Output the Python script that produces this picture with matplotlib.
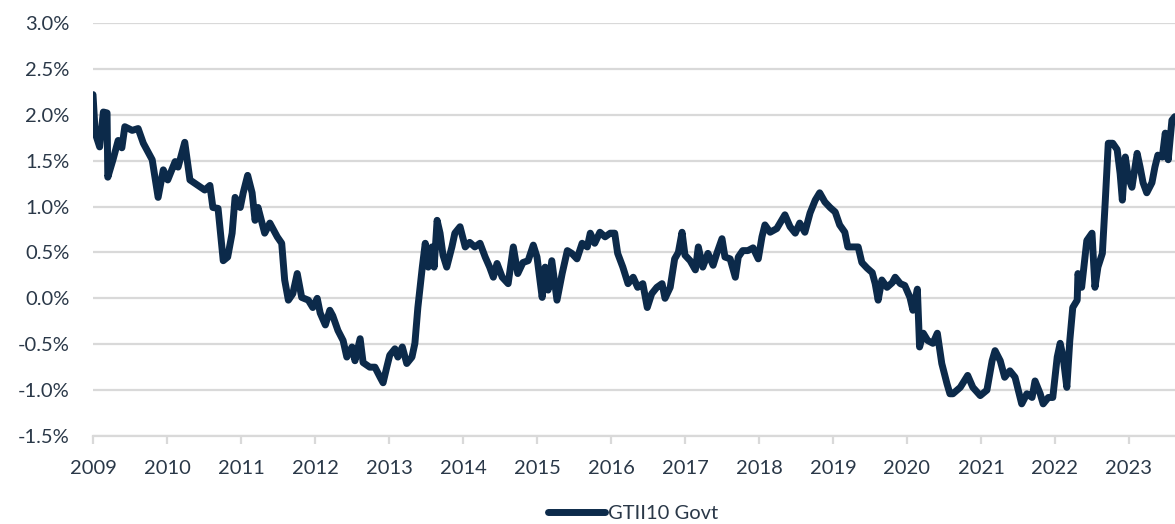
import matplotlib.pyplot as plt
from matplotlib.ticker import FuncFormatter, FixedLocator

dates = [
    2009.00, 2009.03, 2009.09, 2009.14, 2009.19, 2009.20, 2009.27, 2009.34, 2009.39, 2009.43,
    2009.53, 2009.61, 2009.68, 2009.80, 2009.88, 2009.95, 2010.01, 2010.11, 2010.15, 2010.24,
    2010.31, 2010.42, 2010.51, 2010.58, 2010.62, 2010.69, 2010.76, 2010.82, 2010.88, 2010.92,
    2010.99, 2011.03, 2011.09, 2011.15, 2011.19, 2011.23, 2011.32, 2011.39, 2011.49, 2011.55,
    2011.59, 2011.64, 2011.70, 2011.76, 2011.82, 2011.91, 2011.97, 2012.03, 2012.07,
    2012.14, 2012.20, 2012.24, 2012.31, 2012.38, 2012.43, 2012.50, 2012.54, 2012.61, 2012.65,
    2012.74, 2012.81, 2012.88, 2012.92, 2012.97, 2013.01, 2013.08, 2013.12, 2013.18, 2013.24,
    2013.31, 2013.35, 2013.39, 2013.45, 2013.49, 2013.53, 2013.58, 2013.61, 2013.65, 2013.69,
    2013.73, 2013.78, 2013.85, 2013.89, 2013.96, 2014.03, 2014.09, 2014.16, 2014.23, 2014.30,
    2014.36, 2014.41, 2014.46, 2014.53, 2014.61, 2014.68, 2014.74, 2014.81, 2014.88, 2014.95,
    2015.00, 2015.07,
    2015.11, 2015.15, 2015.20, 2015.27, 2015.34, 2015.41, 2015.47, 2015.54, 2015.61, 2015.68,
    2015.72, 2015.78, 2015.85, 2015.92, 2015.99, 2016.05, 2016.09, 2016.16, 2016.23, 2016.30,
    2016.36, 2016.43, 2016.49, 2016.55, 2016.62, 2016.69, 2016.73, 2016.80, 2016.86, 2016.91,
    2016.96, 2017.00, 2017.07, 2017.14, 2017.18, 2017.24, 2017.31, 2017.38, 2017.43, 2017.50,
    2017.54, 2017.61, 2017.68, 2017.72, 2017.78, 2017.85, 2017.92, 2017.99, 2018.04, 2018.08,
    2018.15, 2018.24,
    2018.35, 2018.42, 2018.49, 2018.55, 2018.62, 2018.69, 2018.76, 2018.82, 2018.89, 2018.96,
    2019.03, 2019.09, 2019.16, 2019.20, 2019.27, 2019.34, 2019.39, 2019.46, 2019.53, 2019.57,
    2019.61, 2019.66, 2019.73, 2019.80, 2019.84, 2019.91, 2019.97, 2020.04, 2020.08, 2020.14,
    2020.17, 2020.22, 2020.28, 2020.35, 2020.41, 2020.47, 2020.54, 2020.58,
    2020.62, 2020.72, 2020.82, 2020.89, 2020.99, 2021.08, 2021.15, 2021.19, 2021.26, 2021.32,
    2021.39, 2021.46, 2021.55, 2021.62, 2021.69, 2021.73, 2021.80, 2021.84, 2021.91, 2021.97,
    2022.03, 2022.07, 2022.11, 2022.16, 2022.20, 2022.24, 2022.30, 2022.31, 2022.36, 2022.43,
    2022.50, 2022.54, 2022.58, 2022.64, 2022.68, 2022.72, 2022.78, 2022.84, 2022.88, 2022.91,
    2022.95, 2022.99, 2023.04, 2023.11, 2023.15, 2023.19, 2023.24, 2023.31, 2023.35, 2023.39,
    2023.45, 2023.49, 2023.53, 2023.58, 2023.62,
]
gtii10 = [
    2.22, 1.80, 1.65, 2.03, 2.02, 1.32, 1.51, 1.72, 1.64, 1.87,
    1.83, 1.85, 1.69, 1.51, 1.10, 1.40, 1.29, 1.49, 1.43, 1.70,
    1.29, 1.23, 1.18, 1.23, 0.99, 0.98, 0.41, 0.45, 0.71, 1.10,
    0.99, 1.15, 1.34, 1.15, 0.85, 0.99, 0.71, 0.82, 0.67, 0.60,
    0.20, -0.02, 0.05, 0.27, 0.01, -0.02, -0.10, 0.00, -0.16,
    -0.29, -0.13, -0.19, -0.35, -0.46, -0.64, -0.53, -0.68, -0.44, -0.70,
    -0.75, -0.75, -0.86, -0.92, -0.75, -0.62, -0.55, -0.64, -0.53, -0.71,
    -0.64, -0.49, -0.10, 0.34, 0.60, 0.34, 0.56, 0.34, 0.85, 0.71,
    0.47, 0.34, 0.56, 0.71, 0.78, 0.56, 0.61, 0.56, 0.60, 0.45,
    0.34, 0.23, 0.38, 0.23, 0.16, 0.56, 0.27, 0.39, 0.41, 0.58,
    0.45, 0.01,
    0.34, 0.09, 0.41, -0.02, 0.27, 0.52, 0.49, 0.43, 0.60, 0.56,
    0.71, 0.60, 0.72, 0.67, 0.71, 0.71, 0.49, 0.34, 0.16, 0.23,
    0.12, 0.16, -0.10, 0.05, 0.12, 0.16, 0.00, 0.12, 0.43, 0.50,
    0.72, 0.47, 0.41, 0.31, 0.56, 0.34, 0.49, 0.36, 0.49, 0.65,
    0.45, 0.43, 0.23, 0.45, 0.52, 0.52, 0.55, 0.43, 0.67, 0.80,
    0.72, 0.76,
    0.91, 0.78, 0.71, 0.82, 0.72, 0.93, 1.07, 1.15, 1.05, 0.99,
    0.94, 0.80, 0.72, 0.56, 0.56, 0.56, 0.39, 0.33, 0.28, 0.16,
    -0.02, 0.20, 0.12, 0.17, 0.23, 0.16, 0.14, 0.01, -0.13, 0.10,
    -0.53, -0.38, -0.46, -0.49, -0.38, -0.71, -0.93, -1.04,
    -1.04, -0.97, -0.84, -0.97, -1.06, -1.00, -0.68, -0.57, -0.68, -0.86,
    -0.79, -0.86, -1.15, -1.04, -1.08, -0.90, -1.04, -1.15, -1.08, -1.08,
    -0.64, -0.49, -0.64, -0.97, -0.46, -0.10, -0.02, 0.27, 0.12, 0.63,
    0.71, 0.12, 0.34, 0.49, 1.07, 1.69, 1.69, 1.62, 1.36, 1.07,
    1.54, 1.32, 1.21, 1.58, 1.43, 1.26, 1.15, 1.26, 1.43, 1.56,
    1.54, 1.80, 1.51, 1.94, 1.98,
]
years = list(range(2009, 2024))
y_ticks = [-1.5, -1.0, -0.5, 0.0, 0.5, 1.0, 1.5, 2.0, 2.5, 3.0]

LINE = "#0c2a4a"
GRID = "#d9d9d9"
TEXT = "#2a3848"

plt.rcParams["font.family"] = ["Lato", "DejaVu Sans"]

fig = plt.figure(figsize=(11.75, 5.24), dpi=100, facecolor="white")
ax = fig.add_axes([93 / 1175, 1 - 436 / 524, 1 - 93 / 1175, (436 - 23) / 524])

ax.plot(dates, gtii10, color=LINE, lw=5.0, solid_joinstyle="round",
        solid_capstyle="round", label="GTII10 Govt", zorder=3)

ax.set_xlim(2009, 2009 + (1175 - 93) / 74)
ax.set_ylim(-1.5, 3.0)
ax.yaxis.set_major_locator(FixedLocator(y_ticks))
ax.yaxis.set_major_formatter(FuncFormatter(lambda v, _: f"{v:.1f}%"))
ax.xaxis.set_major_locator(FixedLocator(years))
ax.xaxis.set_major_formatter(FuncFormatter(lambda v, _: f"{int(round(v))}"))

ax.yaxis.grid(True, color=GRID, lw=1.6, zorder=0)
ax.set_axisbelow(True)
for side in ("top", "right", "left"):
    ax.spines[side].set_visible(False)
ax.spines["bottom"].set_color(GRID)
ax.spines["bottom"].set_linewidth(1.6)

ax.tick_params(axis="y", length=0, pad=17, labelsize=14.5, labelcolor=TEXT)
ax.tick_params(axis="x", length=6, width=1.6, color=GRID, pad=11,
               labelsize=14.5, labelcolor=TEXT)

fig.legend(loc="center", bbox_to_anchor=(633 / 1175, 1 - 513 / 524),
           frameon=False, fontsize=14.5, handlelength=2.8, handletextpad=0.15,
           labelcolor=TEXT)

fig.savefig("out.png", dpi=100, facecolor="white")
